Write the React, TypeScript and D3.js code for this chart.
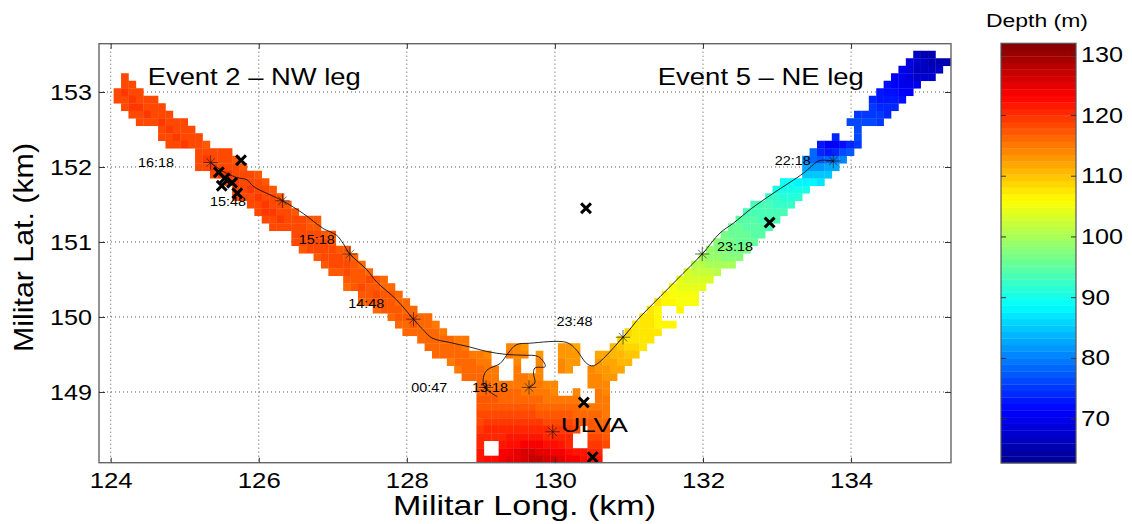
import { useEffect, useRef } from 'react'
import * as d3 from 'd3'

type Row = [number, number, number[]]

const lonTicks = [124, 126, 128, 130, 132, 134]
const latTicks = [149, 150, 151, 152, 153]
const depthTicks = [70, 80, 90, 100, 110, 120, 130]

// [lat, lon of first cell, depth of each 0.1 km cell going east]
const nwLegRows: Row[] = [
  [153.2, 124.19, [118]],
  [153.1, 124.19, [118, 118]],
  [153.0, 124.09, [118, 119, 118, 118]],
  [152.9, 124.09, [118, 118, 119, 118, 118, 118]],
  [152.8, 124.19, [118, 119, 119, 118, 118, 118]],
  [152.7, 124.29, [118, 118, 119, 118, 118, 118]],
  [152.6, 124.39, [118, 118, 118, 119, 118, 118, 118]],
  [152.5, 124.69, [118, 119, 118, 118, 118]],
  [152.4, 124.69, [118, 118, 119, 118, 118, 118]],
  [152.3, 124.79, [118, 118, 119, 118, 118, 117]],
  [152.2, 125.19, [118, 118, 118, 118, 118]],
  [152.1, 125.19, [118, 119, 118, 118, 118, 117]],
  [152.0, 125.19, [118, 118, 119, 118, 118, 118, 117]],
  [151.9, 125.39, [118, 119, 119, 118, 118, 118, 117]],
  [151.8, 125.59, [118, 119, 118, 118, 118, 117]],
  [151.7, 125.69, [118, 118, 119, 118, 118, 117]],
  [151.6, 125.69, [118, 118, 118, 119, 118, 118, 117]],
  [151.5, 125.89, [118, 118, 119, 118, 118, 117]],
  [151.4, 125.99, [118, 119, 119, 118, 118, 117]],
  [151.3, 126.09, [118, 118, 119, 118, 118, 118, 117, 117]],
  [151.2, 126.19, [118, 118, 118, 118, 118, 117, 117]],
  [151.1, 126.49, [118, 118, 118, 118, 117, 117]],
  [151.0, 126.49, [118, 118, 118, 118, 118, 117]],
  [150.9, 126.59, [117, 118, 118, 118, 118, 117, 117]],
  [150.8, 126.79, [117, 118, 118, 118, 117, 116]],
  [150.7, 126.89, [117, 118, 118, 118, 117, 116]],
  [150.6, 126.99, [117, 117, 118, 117, 117, 116]],
  [150.5, 127.19, [117, 117, 117, 118, 117, 116]],
  [150.4, 127.19, [116, 117, 118, 117, 117, 116, 116]],
  [150.3, 127.39, [117, 117, 118, 117, 117, 116]],
  [150.2, 127.39, [116, 117, 117, 117, 117, 116, 116]],
  [150.1, 127.59, [116, 117, 117, 117, 116, 116]],
  [150.0, 127.79, [116, 117, 117, 117, 116, 116]],
  [149.9, 127.89, [116, 116, 117, 116, 116, 115]],
  [149.8, 127.99, [116, 116, 116, 116, 116, 115]],
  [149.7, 128.19, [116, 116, 116, 116, 116, 115, 115]],
  [149.6, 128.29, [116, 116, 116, 116, 116, 115]],
  [149.5, 128.39, [116, 116, 116, 116, 116, 115, 115, 114]],
  [149.4, 128.59, [115, 116, 116, 116, 115, 115]],
  [149.3, 128.69, [115, 116, 116, 116, 115, 115]],
  [149.2, 128.79, [116, 116, 116, 115, 115]],
]

const ulvaRows: Row[] = [
  [149.6, 129.39, [114, 114, 113]],
  [149.6, 130.09, [113, 113, 112]],
  [149.5, 129.39, [115, 114, 114]],
  [149.5, 129.79, [113]],
  [149.5, 130.09, [113, 113, 113]],
  [149.4, 129.49, [114]],
  [149.4, 129.79, [114]],
  [149.4, 130.09, [114, 113, 113]],
  [149.3, 129.49, [115]],
  [149.3, 129.79, [114]],
  [149.3, 130.09, [114, 113]],
  [149.2, 129.49, [115, 115, 114, 114]],
  [149.1, 128.99, [116, 116, 115, 115, 115, 115, 115, 115, 115, 114, 114]],
  [149.0, 128.99, [116, 116, 116, 116, 116, 116, 115, 115, 115, 115, 114]],
  [149.0, 130.29, [114]],
  [148.9, 128.99, [117, 117, 117, 116, 116, 116, 116, 116, 116, 115, 115, 115, 115, 115]],
  [148.8, 128.99, [117, 117, 117, 117, 117, 117, 117, 117, 116, 116, 116, 116, 116, 116, 115, 115, 115, 115]],
  [148.7, 128.99, [118, 118, 118, 118, 118, 118, 118, 118, 117, 117, 117, 117, 117, 116, 116, 116, 116, 115]],
  [148.6, 128.99, [118, 119, 119, 119, 119, 119, 119, 119, 119, 118, 118, 118, 118, 117, 117, 117, 116, 116]],
  [148.5, 128.99, [119, 120, 120, 120, 120, 121, 121, 120, 120, 120, 119, 119, 119, 118]],
  [148.5, 130.49, [117, 117, 117]],
  [148.4, 128.99, [120, 121, 121, 121, 122, 122, 122, 122, 122, 121, 121, 120, 120]],
  [148.4, 130.49, [118, 118, 117]],
  [148.3, 128.99, [121]],
  [148.3, 129.29, [122, 123, 123, 124, 124, 124, 123, 123, 122, 121]],
  [148.3, 130.49, [119, 119, 118]],
  [148.2, 128.99, [122]],
  [148.2, 129.29, [124, 124, 125, 126, 126, 125, 125, 124, 124, 123, 122, 122, 121, 120]],
  [148.1, 128.99, [122, 123, 123, 124, 125, 125, 126, 127, 127, 126, 126, 125, 124, 124, 123, 122, 122]],
]

const neLegRows: Row[] = [
  [149.7, 130.89, [109, 108, 108, 108, 107]],
  [149.6, 130.79, [111, 110, 109, 109, 108]],
  [149.5, 130.59, [112, 112, 111, 111, 110, 110]],
  [149.4, 130.59, [113, 112, 112, 111, 111]],
  [149.3, 130.49, [114, 113, 113, 112, 112]],
  [149.2, 130.49, [114, 114, 113, 113]],
  [149.1, 130.49, [114, 114, 114]],
  [149.0, 130.59, [115, 114]],
  [148.9, 130.59, [115, 115]],
  [149.8, 130.99, [109, 108, 108, 107, 107]],
  [149.9, 131.09, [108, 107, 107, 106, 106, 106]],
  [150.0, 131.19, [108, 107, 106]],
  [150.1, 131.29, [107, 106]],
  [150.1, 131.69, [106]],
  [150.2, 131.39, [107, 106, 106, 105, 105, 105]],
  [150.3, 131.49, [106, 105, 105, 105, 105]],
  [150.4, 131.59, [105, 104, 104, 104, 104]],
  [150.5, 131.69, [104, 103, 103, 103, 103]],
  [150.6, 131.79, [103, 102, 102, 102, 101]],
  [150.7, 131.89, [101, 101, 100, 100, 100, 100]],
  [150.8, 131.99, [100, 99, 99, 98, 98, 98]],
  [150.9, 132.09, [99, 98, 98, 97, 97, 97]],
  [151.0, 132.19, [98, 97, 97, 96, 96, 96]],
  [151.1, 132.29, [97, 96, 96, 96, 95, 95]],
  [151.2, 132.39, [96, 96, 95, 95, 95, 94]],
  [151.3, 132.49, [95, 95, 95, 94, 94, 94]],
  [151.4, 132.59, [94, 94, 94, 93, 93, 93]],
  [151.5, 132.69, [93, 93, 93, 92, 92, 92]],
  [151.6, 132.89, [92, 92, 91, 91, 91]],
  [151.7, 132.99, [90, 90, 90, 90, 90]],
  [151.8, 133.09, [89, 89, 88, 88, 88, 87]],
  [151.9, 133.39, [85, 85, 85, 85]],
  [152.0, 133.39, [83, 82, 82, 83, 83]],
  [152.1, 133.39, [80, 78, 77, 78, 79, 80]],
  [152.2, 133.49, [78, 74, 73, 74, 76, 77]],
  [152.3, 133.59, [73, 71, 71, 72, 74, 75]],
  [152.4, 133.79, [74]],
  [152.4, 134.09, [76]],
  [152.5, 134.09, [76]],
  [152.6, 133.99, [76, 76, 76, 76, 75]],
  [152.7, 134.09, [75, 75, 75, 75, 74]],
  [152.8, 134.29, [75, 74, 74, 74]],
  [152.9, 134.29, [74, 73, 73, 73, 72]],
  [153.0, 134.39, [73, 72, 72, 71, 71]],
  [153.1, 134.49, [72, 71, 70, 70, 70]],
  [153.2, 134.59, [71, 70, 69, 68, 68, 68]],
  [153.3, 134.69, [70, 69, 67, 66, 66, 66]],
  [153.4, 134.79, [69, 68, 66, 65, 65, 65, 66]],
  [153.5, 134.89, [66, 65, 65]],
]

const trackNw: [number, number][] = [
  [125.35, 152.06], [125.52, 151.94], [125.7, 151.86], [125.84, 151.83], [125.93, 151.74],
  [126.32, 151.55], [126.6, 151.38], [126.87, 151.18], [127.05, 151.09], [127.14, 150.98],
  [127.23, 150.84], [127.46, 150.63], [127.59, 150.47], [127.86, 150.23], [128.09, 149.97],
  [128.22, 149.83], [128.34, 149.72], [128.58, 149.66], [128.85, 149.6], [129.08, 149.54],
  [129.35, 149.5], [129.57, 149.49], [129.78, 149.47], [129.87, 149.34], [129.73, 149.32],
  [129.71, 149.25], [129.73, 149.12], [129.65, 149.06],
]

const trackNe: [number, number][] = [
  [133.76, 152.08], [133.6, 152.09], [133.54, 152.07], [133.36, 151.92], [132.95, 151.65],
  [132.66, 151.45], [132.41, 151.25], [132.23, 151.12], [131.99, 150.84], [131.73, 150.58],
  [131.42, 150.27], [131.15, 150.0], [130.92, 149.73], [130.52, 149.35], [130.43, 149.38],
  [130.29, 149.56], [130.16, 149.66], [129.66, 149.65], [129.48, 149.63], [129.37, 149.52],
  [129.26, 149.38], [129.08, 149.29], [129.03, 149.16], [129.06, 149.05], [129.22, 148.94],
]

const stationStars: [number, number][] = [
  [125.35, 152.06], [126.32, 151.55], [127.23, 150.84], [128.09, 149.97], [129.07, 149.06],
  [129.65, 149.06], [129.97, 148.47], [130.92, 149.73], [131.99, 150.84], [133.76, 152.08],
]

const crossMarks: [number, number][] = [
  [125.76, 152.09], [125.46, 151.93], [125.54, 151.85], [125.5, 151.75], [125.64, 151.79],
  [125.71, 151.65], [130.42, 151.45], [132.9, 151.26], [130.39, 148.86], [130.51, 148.13],
]

const timeLabels: [string, number, number][] = [
  ['16:18', 124.37, 152.0], ['15:48', 125.34, 151.48], ['15:18', 126.54, 150.97],
  ['14:48', 127.21, 150.12], ['00:47', 128.06, 149.0], ['13:18', 128.88, 149.0],
  ['23:48', 130.02, 149.88], ['23:18', 132.19, 150.88], ['22:18', 132.97, 152.03],
]

const bigLabels: [string, number, number, number, number][] = [
  ['Event 2 – NW leg', 124.5, 153.09, 24, 213],
  ['Event 5 – NE leg', 131.39, 153.09, 24, 206],
  ['ULVA', 130.08, 148.46, 21, 67],
]

const DEPTH_MIN = 62.7
const DEPTH_MAX = 131.8
const LEVELS = 64

const jetRamp = d3
  .scaleLinear<string>()
  .domain([0, 0.125, 0.375, 0.625, 0.875, 1])
  .range(['#00008f', '#0000ff', '#00ffff', '#ffff00', '#ff0000', '#800000'])

const levelColor = (i: number) => jetRamp((i + 0.5) / LEVELS)
const depthColor = (d: number) => {
  const i = Math.floor(((d - DEPTH_MIN) / (DEPTH_MAX - DEPTH_MIN)) * LEVELS)
  return levelColor(Math.max(0, Math.min(LEVELS - 1, i)))
}

const FONT = '"Liberation Sans", Arial, sans-serif'

export default function App() {
  const svgRef = useRef<SVGSVGElement | null>(null)

  useEffect(() => {
    const svg = d3.select(svgRef.current)
    svg.selectAll('*').remove()

    const x = d3.scaleLinear().domain([123.842, 135.35]).range([99, 951])
    const y = d3.scaleLinear().domain([148.057, 153.644]).range([462.7, 43.7])
    const [left, right] = x.range()
    const [bottom, top] = y.range()

    svg
      .append('defs')
      .append('clipPath')
      .attr('id', 'plot-clip')
      .append('rect')
      .attr('x', left)
      .attr('y', top)
      .attr('width', right - left)
      .attr('height', bottom - top)

    const soft = svg.select('defs').append('filter').attr('id', 'soft')
    soft.append('feGaussianBlur').attr('stdDeviation', 0.7)

    // dotted grid sits under the depth cells
    const grid = svg.append('g').attr('stroke', '#555').attr('stroke-width', 1).attr('stroke-dasharray', '1,3')
    grid
      .selectAll('.v')
      .data(lonTicks)
      .enter()
      .append('line')
      .attr('x1', (d) => x(d))
      .attr('x2', (d) => x(d))
      .attr('y1', top)
      .attr('y2', bottom)
    grid
      .selectAll('.h')
      .data(latTicks)
      .enter()
      .append('line')
      .attr('x1', left)
      .attr('x2', right)
      .attr('y1', (d) => y(d))
      .attr('y2', (d) => y(d))

    // depth cells
    const cells = [...nwLegRows, ...ulvaRows, ...neLegRows].flatMap(([lat, lon, depths]) =>
      depths.map((depth, i) => ({ lat, lon: lon + i * 0.1, depth }))
    )
    svg
      .append('g')
      .attr('clip-path', 'url(#plot-clip)')
      .append('g')
      .attr('filter', 'url(#soft)')
      .selectAll('rect')
      .data(cells)
      .enter()
      .append('rect')
      .attr('x', (d) => x(d.lon - 0.05))
      .attr('y', (d) => y(d.lat + 0.05))
      .attr('width', (d) => x(d.lon + 0.05) - x(d.lon - 0.05) + 0.3)
      .attr('height', (d) => y(d.lat - 0.05) - y(d.lat + 0.05) + 0.3)
      .attr('fill', (d) => depthColor(d.depth))

    // ship tracks
    const line = d3
      .line<[number, number]>()
      .x((d) => x(d[0]))
      .y((d) => y(d[1]))
      .curve(d3.curveCatmullRom.alpha(0.5))
    svg
      .selectAll('.track')
      .data([trackNw, trackNe])
      .enter()
      .append('path')
      .attr('d', (d) => line(d))
      .attr('fill', 'none')
      .attr('stroke', '#111')
      .attr('stroke-width', 0.9)

    // star markers, a plus and a times stacked
    const plusPath = d3.symbol(d3.symbolPlus, 70)()
    const timesPath = d3.symbol(d3.symbolTimes, 50)()
    const stars = svg
      .selectAll('.star')
      .data(stationStars)
      .enter()
      .append('g')
      .attr('transform', (d) => `translate(${x(d[0])},${y(d[1])})`)
    stars.append('path').attr('d', plusPath).attr('fill', 'none').attr('stroke', '#111').attr('stroke-width', 0.6)
    stars.append('path').attr('d', timesPath).attr('fill', 'none').attr('stroke', '#111').attr('stroke-width', 0.6)

    svg
      .selectAll('.cross')
      .data(crossMarks)
      .enter()
      .append('path')
      .attr('d', d3.symbol(d3.symbolTimes, 65)())
      .attr('transform', (d) => `translate(${x(d[0])},${y(d[1])})`)
      .attr('fill', 'none')
      .attr('stroke', '#000')
      .attr('stroke-width', 3)

    // frame and axes
    svg
      .append('rect')
      .attr('x', left)
      .attr('y', top)
      .attr('width', right - left)
      .attr('height', bottom - top)
      .attr('fill', 'none')
      .attr('stroke', '#666')
      .attr('stroke-width', 1.4)

    const styleAxis = (g: any, stretch: (t: string) => number) => {
      g.select('.domain').remove()
      g.selectAll('line').attr('stroke', '#333')
      g.selectAll('text')
        .attr('fill', '#000')
        .style('font-family', FONT)
        .style('font-size', '22px')
        .attr('lengthAdjust', 'spacingAndGlyphs')
        .attr('textLength', (d: any) => stretch(String(d)))
    }
    const noLabel = () => ''
    const wholeNumber = d3.format('d')

    svg
      .append('g')
      .attr('transform', `translate(0,${bottom})`)
      .call(d3.axisBottom(x).tickValues(lonTicks).tickFormat(wholeNumber).tickSizeInner(-5).tickSizeOuter(0).tickPadding(10))
      .call(styleAxis, () => 43)
    svg
      .append('g')
      .attr('transform', `translate(${left},0)`)
      .call(d3.axisLeft(y).tickValues(latTicks).tickFormat(wholeNumber).tickSizeInner(-6).tickSizeOuter(0).tickPadding(7))
      .call(styleAxis, () => 42)
    svg
      .append('g')
      .attr('transform', `translate(0,${top})`)
      .call(d3.axisTop(x).tickValues(lonTicks).tickSizeInner(-5).tickSizeOuter(0).tickFormat(noLabel))
      .call(styleAxis, () => 0)
    svg
      .append('g')
      .attr('transform', `translate(${right},0)`)
      .call(d3.axisRight(y).tickValues(latTicks).tickSizeInner(-6).tickSizeOuter(0).tickFormat(noLabel))
      .call(styleAxis, () => 0)

    // annotations
    svg
      .selectAll('.time')
      .data(timeLabels)
      .enter()
      .append('text')
      .attr('x', (d) => x(d[1]))
      .attr('y', (d) => y(d[2]))
      .attr('textLength', 36)
      .attr('lengthAdjust', 'spacingAndGlyphs')
      .style('font-family', FONT)
      .style('font-size', '13px')
      .text((d) => d[0])
    svg
      .selectAll('.big')
      .data(bigLabels)
      .enter()
      .append('text')
      .attr('x', (d) => x(d[1]))
      .attr('y', (d) => y(d[2]))
      .attr('textLength', (d) => d[4])
      .attr('lengthAdjust', 'spacingAndGlyphs')
      .style('font-family', FONT)
      .style('font-size', (d) => `${d[3]}px`)
      .text((d) => d[0])

    svg
      .append('text')
      .attr('x', 393)
      .attr('y', 515)
      .attr('textLength', 263)
      .attr('lengthAdjust', 'spacingAndGlyphs')
      .style('font-family', FONT)
      .style('font-size', '28px')
      .text('Militar Long. (km)')
    svg
      .append('text')
      .attr('transform', 'translate(33,352) rotate(-90)')
      .attr('textLength', 209)
      .attr('lengthAdjust', 'spacingAndGlyphs')
      .style('font-family', FONT)
      .style('font-size', '28px')
      .text('Militar Lat. (km)')

    // colorbar
    const barLeft = 1001
    const barRight = 1076
    const c = d3.scaleLinear().domain([DEPTH_MIN, DEPTH_MAX]).range([463, 43.3])
    const step = (DEPTH_MAX - DEPTH_MIN) / LEVELS
    svg
      .append('g')
      .selectAll('rect')
      .data(d3.range(LEVELS))
      .enter()
      .append('rect')
      .attr('x', barLeft)
      .attr('width', barRight - barLeft)
      .attr('y', (i) => c(DEPTH_MIN + (i + 1) * step))
      .attr('height', c(DEPTH_MIN) - c(DEPTH_MIN + step) + 0.3)
      .attr('fill', (i) => levelColor(i))
    svg
      .append('rect')
      .attr('x', barLeft)
      .attr('y', c(DEPTH_MAX))
      .attr('width', barRight - barLeft)
      .attr('height', c(DEPTH_MIN) - c(DEPTH_MAX))
      .attr('fill', 'none')
      .attr('stroke', '#555')
      .attr('stroke-width', 1.2)
    svg
      .append('g')
      .attr('transform', `translate(${barRight},0)`)
      .call(d3.axisRight(c).tickValues(depthTicks).tickSizeInner(-5).tickSizeOuter(0).tickPadding(5))
      .call(styleAxis, (t) => (t.length > 2 ? 42 : 29))
    svg
      .append('g')
      .attr('transform', `translate(${barLeft},0)`)
      .call(d3.axisLeft(c).tickValues(depthTicks).tickSizeInner(-5).tickSizeOuter(0).tickFormat(noLabel))
      .call(styleAxis, () => 0)
    svg
      .append('text')
      .attr('x', 986)
      .attr('y', 27)
      .attr('textLength', 102)
      .attr('lengthAdjust', 'spacingAndGlyphs')
      .style('font-family', FONT)
      .style('font-size', '18px')
      .text('Depth (m)')
  }, [])

  return (
    <svg
      ref={svgRef}
      width={1132}
      height={524}
      style={{ position: 'absolute', left: 0, top: 0, background: '#fff' }}
    />
  )
}
